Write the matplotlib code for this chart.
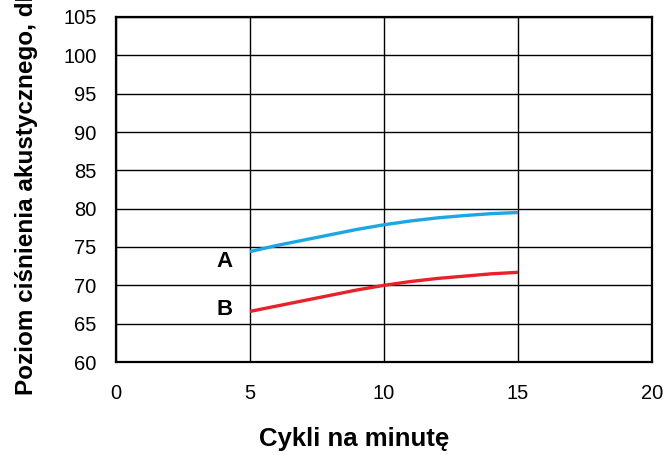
import matplotlib.pyplot as plt

plt.rcParams['font.family'] = ['Liberation Sans', 'DejaVu Sans']

# Dane
cykle = [5, 6, 7, 8, 9, 10, 11, 12, 13, 14, 15]
krzywa_a = [74.4, 75.2, 75.9, 76.6, 77.3, 77.9, 78.4, 78.8, 79.1, 79.35, 79.5]
krzywa_b = [66.6, 67.3, 68.0, 68.7, 69.4, 70.0, 70.5, 70.9, 71.2, 71.5, 71.7]
etykiety = ['A', 'B']
x_ticks = [0, 5, 10, 15, 20]
y_ticks = [60, 65, 70, 75, 80, 85, 90, 95, 100, 105]

fig = plt.figure(figsize=(6.72, 4.55), dpi=100)
ax = fig.add_axes([116 / 672, 1 - 362 / 455, 536 / 672, 345 / 455])

ax.plot(cykle, krzywa_a, color='#1ba8e2', lw=2.4, solid_capstyle='butt', solid_joinstyle='round', zorder=3)
ax.plot(cykle, krzywa_b, color='#e8212b', lw=2.4, solid_capstyle='butt', solid_joinstyle='round', zorder=3)

# Etykiety krzywych
ax.text(4.35, krzywa_a[0] - 1.3, etykiety[0], fontsize=16, fontweight='bold', ha='right', va='center')
ax.text(4.35, krzywa_b[0] + 0.2, etykiety[1], fontsize=16, fontweight='bold', ha='right', va='center')

ax.set_xlim(0, 20)
ax.set_ylim(60, 105)
ax.set_xticks(x_ticks)
ax.set_yticks(y_ticks)
ax.grid(True, color='black', lw=1.0)
ax.tick_params(length=0, labelsize=14.5)
ax.tick_params(axis='y', pad=14)
ax.tick_params(axis='x', pad=16)
for s in ax.spines.values():
    s.set_linewidth(1.6)

# Opisy osi
fig.text(354 / 672, 1 - 439 / 455, 'Cykli na minutę',
         ha='center', va='center', fontsize=18.5, fontweight='bold')
fig.text(27 / 672, 1 - 395 / 455, 'Poziom ciśnienia akustycznego, dB(A)',
         rotation=90, ha='center', va='bottom', fontsize=17.5, fontweight='bold')

fig.savefig('out.png', dpi=100)
